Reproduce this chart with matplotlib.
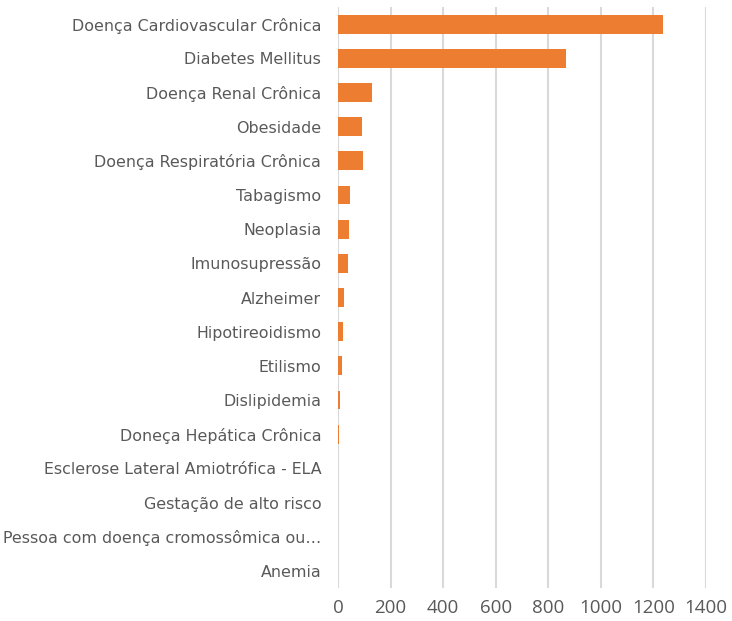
import matplotlib
matplotlib.use('Agg')
import matplotlib.pyplot as plt

# Data
categorias = [
    'Doença Cardiovascular Crônica',
    'Diabetes Mellitus',
    'Doença Renal Crônica',
    'Obesidade',
    'Doença Respiratória Crônica',
    'Tabagismo',
    'Neoplasia',
    'Imunosupressão',
    'Alzheimer',
    'Hipotireoidismo',
    'Etilismo',
    'Dislipidemia',
    'Doneça Hepática Crônica',
    'Esclerose Lateral Amiotrófica - ELA',
    'Gestação de alto risco',
    'Pessoa com doença cromossômica ou…',
    'Anemia',
]
valores = [1238, 868, 130, 92, 97, 46, 42, 37, 22, 20, 14, 8, 3, 1, 1, 1, 0]
x_ticks = [0, 200, 400, 600, 800, 1000, 1200, 1400]

fig = plt.figure(figsize=(7.32, 6.21), dpi=100)
ax = fig.add_axes([0.4617, 0.0531, 0.5028, 0.9356])

pos = list(range(len(categorias)))
ax.barh(pos, valores, height=0.55, color='#ED7D31', zorder=3)

ax.set_ylim(len(categorias) - 0.5, -0.5)
ax.set_xlim(0, 1400)
ax.set_xticks(x_ticks)
ax.set_yticks(pos)
ax.set_yticklabels(categorias, fontsize=11.4, color='#595959')
ax.tick_params(axis='x', labelsize=13.5, colors='#595959', length=0, pad=8)
ax.tick_params(axis='y', length=0, pad=12)
for lab in ax.get_xticklabels():
    lab.set_family('Open Sans')

ax.grid(axis='x', color='#d9d9d9', linewidth=1.5, zorder=0)
for s in ['top', 'right', 'bottom', 'left']:
    ax.spines[s].set_visible(False)

fig.savefig('out.png', dpi=100)
